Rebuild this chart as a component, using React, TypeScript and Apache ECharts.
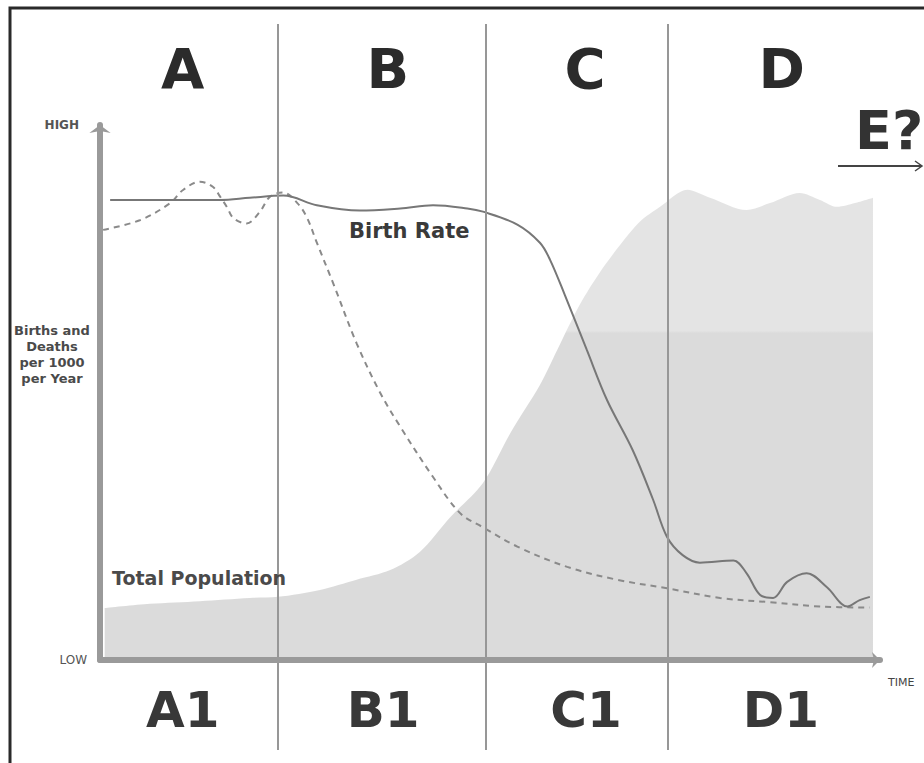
import React, { useEffect, useRef } from 'react';
import * as echarts from 'echarts';

const FONT = "'DejaVu Sans', sans-serif";

// Time axis 0..100, rates in births/deaths per 1000 (0..50), population index 0..100
const deathTime = [0.4, 5.1, 9.0, 10.6, 12.8, 14.5, 15.4, 16.3, 17.1, 18.8, 20.5, 21.8, 23.5, 25.3, 26.5, 27.8, 29.9, 32.9, 35.9, 38.5, 42.7, 46.2, 49.1, 53.5, 59.9, 66.3, 72.7, 79.5, 85.9, 92.3, 98.7];
const deathRate = [40.2, 41.1, 42.7, 43.9, 44.7, 44.2, 43.3, 42.3, 41.3, 40.8, 41.9, 43.3, 43.7, 42.7, 41.4, 39.0, 35.2, 29.6, 25.0, 21.8, 17.1, 13.7, 12.4, 10.6, 8.7, 7.5, 6.7, 5.8, 5.4, 5.0, 4.9];

const birthTime = [1.3, 7.7, 15.4, 19.2, 23.5, 27.8, 33.3, 38.5, 42.7, 47.1, 49.1, 53.5, 56.4, 57.7, 59.6, 62.4, 65.0, 68.3, 70.9, 72.7, 74.7, 76.9, 81.2, 82.9, 84.6, 86.3, 88.1, 90.6, 93.2, 95.8, 97.4, 98.7];
const birthRate = [43.0, 43.0, 43.0, 43.2, 43.4, 42.5, 42.0, 42.2, 42.5, 42.2, 41.9, 40.7, 39.0, 37.4, 34.1, 29.0, 24.3, 19.6, 15.0, 11.5, 9.8, 9.1, 9.3, 8.1, 6.1, 5.8, 7.3, 8.1, 6.8, 5.0, 5.6, 5.9];

const popTime = [0.6, 6.4, 12.8, 19.2, 22.8, 28.2, 32.9, 37.2, 41.0, 44.9, 49.1, 52.6, 56.4, 58.6, 61.5, 64.1, 66.7, 69.2, 71.8, 75.3, 78.2, 82.9, 85.9, 89.7, 92.3, 94.5, 96.8, 99.1];
const popIndex = [9.7, 10.5, 11.0, 11.6, 11.8, 13.1, 15.0, 16.8, 20.2, 26.7, 33.1, 42.4, 51.4, 57.9, 66.4, 72.5, 77.6, 81.9, 84.7, 87.9, 86.4, 84.1, 85.4, 87.3, 86.0, 84.7, 85.4, 86.4];

const stageBounds = [22.8, 49.4, 72.8];
const stageTop = ['A', 'B', 'C', 'D'];
const stageBottom = ['A1', 'B1', 'C1', 'D1'];
const stageTopTime = [10.6, 36.9, 62.2, 87.4];
const stageBottomTime = [10.6, 36.3, 62.3, 87.3];

const yTickLabels = { low: 'LOW', high: 'HIGH' };

const zip = (a: number[], b: number[]) => a.map((v, i) => [v, b[i]]);

export default function App() {
  const ref = useRef<HTMLDivElement>(null);

  useEffect(() => {
    if (!ref.current) return;
    const chart = echarts.init(ref.current, undefined, { renderer: 'svg' });

    const axisGrey = '#9a9a9a';

    const option: any = {
      animation: false,
      backgroundColor: '#ffffff',
      textStyle: { fontFamily: FONT },
      grid: [
        { left: 100, right: 44, top: 125, bottom: 103 },
        { left: 100, right: 44, top: 24, bottom: 13 },
      ],
      xAxis: [
        {
          type: 'value', gridIndex: 0, min: 0, max: 100, z: 10,
          axisLine: { show: true, symbol: ['none', 'arrow'], symbolSize: [12, 8], lineStyle: { color: axisGrey, width: 6 } },
          axisTick: { show: false }, axisLabel: { show: false }, splitLine: { show: false },
          name: 'TIME', nameLocation: 'end', nameGap: 8,
          nameTextStyle: { fontSize: 11, color: '#444', fontFamily: FONT, verticalAlign: 'top', padding: [17, 0, 0, 0] },
        },
        { type: 'value', gridIndex: 1, min: 0, max: 100, show: false },
      ],
      yAxis: [
        {
          type: 'value', gridIndex: 0, min: 0, max: 50, interval: 50, z: 10,
          axisLine: { show: true, symbol: ['none', 'arrow'], symbolSize: [16, 8], lineStyle: { color: axisGrey, width: 6 } },
          axisTick: { show: false }, splitLine: { show: false },
          axisLabel: {
            margin: 13,
            formatter: (v: number) => (v >= 50 ? '{h|' + yTickLabels.high + '}' : '{l|' + yTickLabels.low + '}'),
            rich: {
              h: { fontSize: 12, fontWeight: 'bold', color: '#555', fontFamily: FONT, padding: [0, 8, 0, 0] },
              l: { fontSize: 12, color: '#555', fontFamily: FONT },
            },
          },
        },
        { type: 'value', gridIndex: 0, min: 0, max: 100, show: false },
        { type: 'value', gridIndex: 1, min: 0, max: 100, show: false },
      ],
      series: [
        {
          name: 'Total Population', type: 'line', xAxisIndex: 0, yAxisIndex: 1,
          data: zip(popTime, popIndex), smooth: 0.3, symbol: 'none', z: 1,
          lineStyle: { width: 0 },
          areaStyle: {
            opacity: 1,
            color: {
              type: 'linear', x: 0, y: 0, x2: 0, y2: 1,
              colorStops: [
                { offset: 0, color: '#e4e4e4' },
                { offset: 0.3, color: '#e4e4e4' },
                { offset: 0.305, color: '#dbdbdb' },
                { offset: 1, color: '#dbdbdb' },
              ],
            },
          },
        },
        {
          name: 'Stages', type: 'scatter', xAxisIndex: 1, yAxisIndex: 2, z: 2,
          symbolSize: 1, itemStyle: { color: 'rgba(0,0,0,0)', opacity: 1 },
          data: stageTop.map((s, i) => ({ name: s, value: [stageTopTime[i], 93.9] })),
          label: { show: true, position: 'inside', formatter: '{b}', fontSize: 56, fontWeight: 'bold', color: '#2b2b2b', fontFamily: FONT },
          markLine: {
            silent: true, symbol: 'none', label: { show: false },
            lineStyle: { color: '#979797', width: 2, type: 'solid' },
            data: stageBounds.map((x) => ({ xAxis: x })),
          },
        },
        {
          name: 'Stages bottom', type: 'scatter', xAxisIndex: 1, yAxisIndex: 2, z: 2,
          symbolSize: 1, itemStyle: { color: 'rgba(0,0,0,0)', opacity: 1 },
          data: stageBottom.map((s, i) => ({ name: s, value: [stageBottomTime[i], 5.5] })),
          label: { show: true, position: 'inside', formatter: '{b}', fontSize: 50, fontWeight: 'bold', color: '#383838', fontFamily: FONT },
        },
        {
          name: 'Death Rate', type: 'line', xAxisIndex: 0, yAxisIndex: 0,
          data: zip(deathTime, deathRate), smooth: 0.35, symbol: 'none', z: 3,
          lineStyle: { color: '#8a8a8a', width: 2, type: [6, 5] },
        },
        {
          name: 'Birth Rate', type: 'line', xAxisIndex: 0, yAxisIndex: 0,
          data: zip(birthTime, birthRate), smooth: 0.35, symbol: 'none', z: 3,
          lineStyle: { color: '#777777', width: 2 },
        },
      ],
      graphic: [
        {
          type: 'rect', z: 20, silent: true,
          shape: { x: 10, y: 8, width: 960, height: 820 },
          style: { fill: 'none', stroke: '#2a2a2a', lineWidth: 3 },
        },
        {
          type: 'text', z: 20,
          style: { text: 'Births and\nDeaths\nper 1000\nper Year', x: 52, y: 354, textAlign: 'center', textVerticalAlign: 'middle', fontSize: 13, fontWeight: 'bold', lineHeight: 16, fill: '#4a4a4a', fontFamily: FONT },
        },
        {
          type: 'text', z: 20,
          style: { text: 'Birth Rate', x: 349, y: 231, textAlign: 'left', textVerticalAlign: 'middle', fontSize: 21, fontWeight: 'bold', fill: '#3a3a3a', fontFamily: FONT },
        },
        {
          type: 'text', z: 20,
          style: { text: 'Total Population', x: 112, y: 578, textAlign: 'left', textVerticalAlign: 'middle', fontSize: 19, fontWeight: 'bold', fill: '#4a4a4a', fontFamily: FONT },
        },
        {
          type: 'text', z: 20,
          style: { text: 'E?', x: 855, y: 130, textAlign: 'left', textVerticalAlign: 'middle', fontSize: 54, fontWeight: 'bold', fill: '#333', fontFamily: FONT },
        },
        {
          type: 'line', z: 20,
          shape: { x1: 838, y1: 166, x2: 922, y2: 166 },
          style: { stroke: '#444', lineWidth: 2 },
        },
        {
          type: 'polyline', z: 20,
          shape: { points: [[915, 161], [922, 166], [915, 171]] },
          style: { stroke: '#444', lineWidth: 1.5, fill: 'none' },
        },
      ],
    };

    chart.setOption(option);
    return () => chart.dispose();
  }, []);

  return <div ref={ref} style={{ position: 'absolute', left: 0, top: 0, width: 924, height: 763 }} />;
}
